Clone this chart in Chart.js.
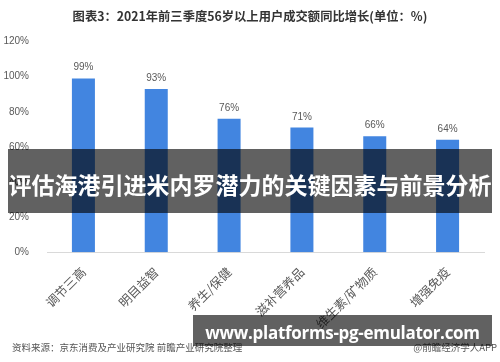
<!DOCTYPE html>
<html>
<head>
<meta charset="utf-8">
<script src="https://cdn.jsdelivr.net/npm/chart.js@4"></script>
<style>
  body { margin: 0; background: #fff; }
  #wrap { position: relative; width: 500px; height: 362px; overflow: hidden; }
  #title { position: absolute; left: 0; top: 7px; width: 500px; text-align: center;
    font: bold 12.3px "Noto Sans CJK SC", sans-serif; color: #333; }
  #banner { position: absolute; left: 8px; top: 149px; width: 484px; height: 64px;
    background: rgba(0,0,0,0.62); color: #fff; text-align: center;
    font: bold 23px "Noto Sans CJK SC", sans-serif; line-height: 70px; white-space: nowrap; }
  #site { position: absolute; left: 193px; top: 315px; width: 299px; height: 31px;
    background: rgba(0,0,0,0.62); color: #fff; text-align: center;
    font: bold 17px "Open Sans", sans-serif; letter-spacing: -0.3px;
    line-height: 36px; white-space: nowrap; }
  #source { position: absolute; left: 12px; top: 340px;
    font: 9.5px "Noto Sans CJK SC", sans-serif; color: #555; }
  #brand { position: absolute; right: 3px; top: 340px;
    font: 9.5px "Noto Sans CJK SC", sans-serif; color: #555; }
</style>
</head>
<body>
<div id="wrap">
  <canvas id="chart" width="500" height="362"></canvas>
  <div id="title">图表3：2021年前三季度56岁以上用户成交额同比增长(单位：%)</div>
  <div id="source">资料来源：京东消费及产业研究院 前瞻产业研究院整理</div>
  <div id="brand">@前瞻经济学人APP</div>
  <div id="banner">评估海港引进米内罗潜力的关键因素与前景分析</div>
  <div id="site">www.platforms-pg-emulator.com</div>
</div>
<script>
const categories = ['调节三高', '明目益智', '养生/保健', '滋补营养品', '维生素/矿物质', '增强免疫'];
const growth = [99, 93, 76, 71, 66, 64];
const yTicks = [0, 20, 40, 60, 80, 100, 120];

// value labels above each bar
const barLabels = {
  id: 'barLabels',
  afterDatasetsDraw(chart) {
    const ctx = chart.ctx;
    const meta = chart.getDatasetMeta(0);
    ctx.save();
    ctx.font = '10px "Liberation Sans", Arial, sans-serif';
    ctx.fillStyle = '#595959';
    ctx.textAlign = 'center';
    ctx.textBaseline = 'alphabetic';
    meta.data.forEach((bar, i) => {
      ctx.fillText(growth[i] + '%', bar.x, bar.y - 8);
    });
    ctx.restore();
  }
};

new Chart(document.getElementById('chart'), {
  type: 'bar',
  data: {
    labels: categories,
    datasets: [{
      data: growth,
      backgroundColor: '#4285e0',
      categoryPercentage: 1,
      barPercentage: 0.316
    }]
  },
  options: {
    responsive: false,
    animation: false,
    layout: { padding: { top: 41.5, right: 16, bottom: 0, left: 0 } },
    plugins: {
      legend: { display: false },
      tooltip: { enabled: false }
    },
    scales: {
      y: {
        min: 0,
        max: 120,
        afterFit: s => { s.width = 47; },
        afterBuildTicks: s => { s.ticks = yTicks.map(v => ({ value: v })); },
        ticks: {
          callback: v => v + '%',
          color: '#595959',
          padding: 10,
          font: { family: '"Liberation Sans", Arial, sans-serif', size: 10 }
        },
        grid: { display: false },
        border: { display: false }
      },
      x: {
        afterFit: s => { s.height = 109.7; },
        ticks: {
          autoSkip: false,
          minRotation: 45,
          maxRotation: 45,
          color: '#595959',
          padding: 4,
          font: { family: '"Noto Sans CJK SC", sans-serif', size: 12.5 }
        },
        grid: { display: false },
        border: { display: true, color: '#d9d9d9', width: 1 }
      }
    }
  },
  plugins: [barLabels]
});
</script>
</body>
</html>
